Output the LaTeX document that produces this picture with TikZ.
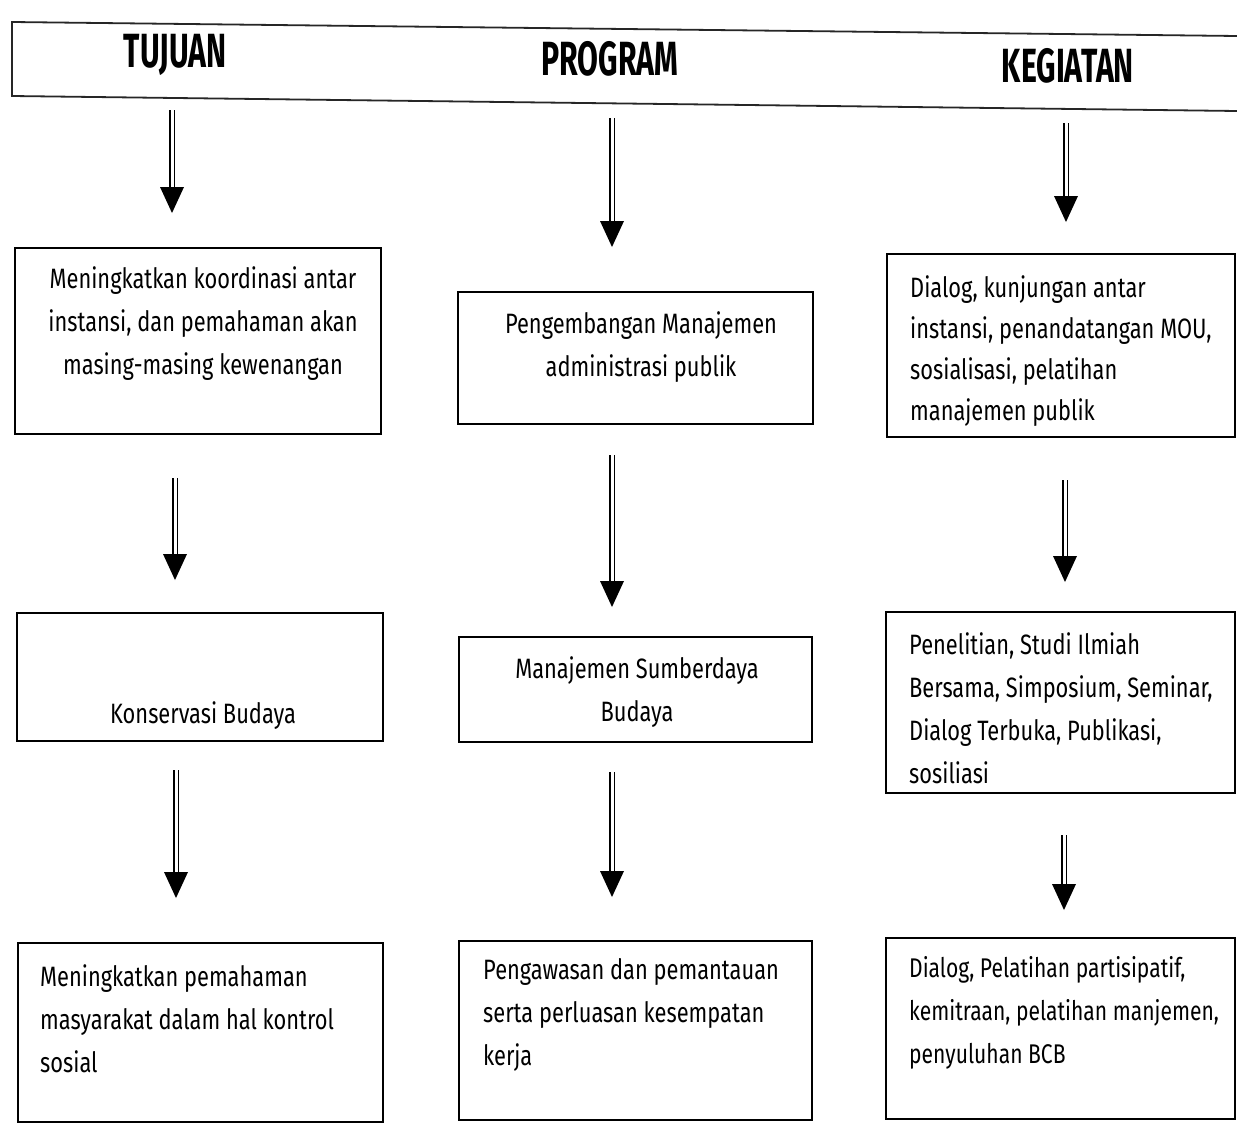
\documentclass[tikz,border=0pt]{standalone}
\usepackage{fontspec}
\setmainfont{Fira Sans}[FakeStretch=0.78]
\newfontfamily\hdrfont{Fira Sans}[FakeStretch=0.63]
\usetikzlibrary{calc}
\tikzset{
  box/.style={draw=black, line width=1.6pt, rectangle, inner sep=0pt},
  txt/.style={inner sep=0pt, font=\fontsize{28}{43}\selectfont},
  hdr/.style={inner sep=0pt, anchor=base, font=\hdrfont\bfseries\fontsize{48}{48}\selectfont},
  shaft/.style={draw=black, line width=1.9pt, double=white, double distance=3pt, shorten >=22pt},
}
\newcommand\dblarrow[2]{%
  \draw[shaft] (#1) -- (#2);
  \fill[black] ($(#2)+(-12,-26)$) -- ($(#2)+(12,-26)$) -- (#2) -- cycle;}
\begin{document}
\begin{tikzpicture}[x=1pt,y=-1pt]
\useasboundingbox[fill=white] (0,0) rectangle (1237,1124);
% header band
\draw[line width=1.8pt, black!85] (1237,36) -- (12,22) -- (12,96) -- (1237,111);
\node[hdr] (h1) at (175,68) {TUJUAN};
\node[hdr] (h2) at (610,76) {PROGRAM};
\node[hdr] (h3) at (1068,83) {KEGIATAN};

% boxes
\node[box, minimum width=366pt, minimum height=186pt] (t1) at (198,341) {};
\node[box, minimum width=355pt, minimum height=132pt] (p1) at (635.5,358) {};
\node[box, minimum width=348pt, minimum height=183pt] (k1) at (1061,345.5) {};
\node[box, minimum width=366pt, minimum height=128pt] (t2) at (200,677) {};
\node[box, minimum width=353pt, minimum height=105pt] (p2) at (635.5,689.5) {};
\node[box, minimum width=349pt, minimum height=181pt] (k2) at (1060.5,702.5) {};
\node[box, minimum width=365pt, minimum height=179pt] (t3) at (200.5,1032.5) {};
\node[box, minimum width=353pt, minimum height=179pt] (p3) at (635.5,1030.5) {};
\node[box, minimum width=349pt, minimum height=181pt] (k3) at (1060.5,1028.5) {};

% texts
\node[txt, align=center] (t1x) at (203,324) {Meningkatkan koordinasi antar\\instansi, dan pemahaman akan\\masing-masing kewenangan};
\node[txt, align=center] (p1x) at (641,347) {Pengembangan Manajemen\\administrasi publik};
\node[txt, align=left, anchor=west, font=\fontsize{28}{41}\selectfont] (k1x) at (910,351) {Dialog, kunjungan antar\\instansi, penandatangan MOU,\\sosialisasi, pelatihan\\manajemen publik};
\node[txt, align=center] (t2x) at (203,716) {Konservasi Budaya};
\node[txt, align=center] (p2x) at (637,692) {Manajemen Sumberdaya\\Budaya};
\node[txt, align=left, anchor=west] (k2x) at (909,708) {Penelitian, Studi Ilmiah\\Bersama, Simposium, Seminar,\\Dialog Terbuka, Publikasi,\\sosiliasi};
\node[txt, align=left, anchor=west] (t3x) at (40,1019) {Meningkatkan pemahaman\\masyarakat dalam hal kontrol\\sosial};
\node[txt, align=left, anchor=west] (p3x) at (483,1015) {Pengawasan dan pemantauan\\serta perluasan kesempatan\\kerja};
\node[txt, align=left, anchor=west, font=\fontsize{27}{43}\selectfont] (k3x) at (909,1013) {Dialog, Pelatihan partisipatif,\\kemitraan, pelatihan manjemen,\\penyuluhan BCB};

% arrow end points
\coordinate (a1s) at (172,110); \coordinate (a1e) at (172,213);
\coordinate (a2s) at (175,478); \coordinate (a2e) at (175,580);
\coordinate (a3s) at (176,770); \coordinate (a3e) at (176,898);
\coordinate (b1s) at (612,118); \coordinate (b1e) at (612,247);
\coordinate (b2s) at (612,455); \coordinate (b2e) at (612,607);
\coordinate (b3s) at (612,772); \coordinate (b3e) at (612,897);
\coordinate (c1s) at (1066,123); \coordinate (c1e) at (1066,222);
\coordinate (c2s) at (1065,480); \coordinate (c2e) at (1065,582);
\coordinate (c3s) at (1064,835); \coordinate (c3e) at (1064,910);

\dblarrow{a1s}{a1e}
\dblarrow{a2s}{a2e}
\dblarrow{a3s}{a3e}
\dblarrow{b1s}{b1e}
\dblarrow{b2s}{b2e}
\dblarrow{b3s}{b3e}
\dblarrow{c1s}{c1e}
\dblarrow{c2s}{c2e}
\dblarrow{c3s}{c3e}
\end{tikzpicture}
\end{document}
